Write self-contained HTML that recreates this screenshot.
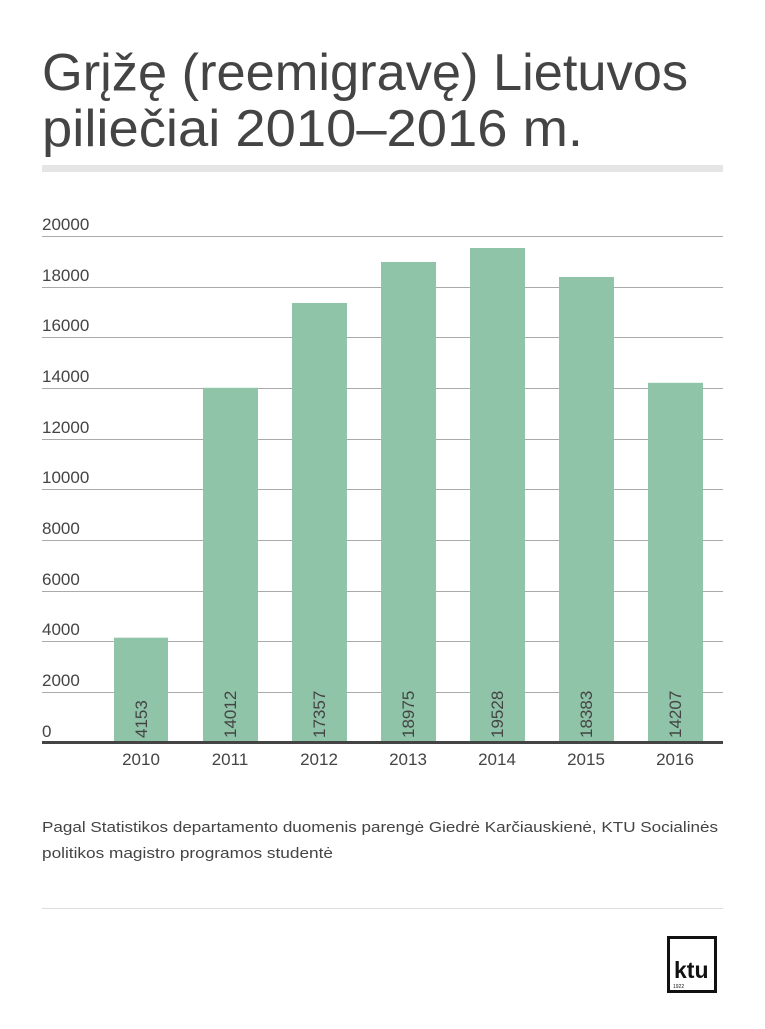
<!DOCTYPE html>
<html><head><meta charset="utf-8"><style>
body{margin:0;background:#fff;width:765px;height:1024px;overflow:hidden;font-family:"Liberation Sans",sans-serif}
</style></head><body>
<svg width="765" height="1024" xmlns="http://www.w3.org/2000/svg" font-family="Liberation Sans, sans-serif">
<text x="42" y="90" font-size="52" fill="#444" textLength="646" lengthAdjust="spacingAndGlyphs">Grįžę (reemigravę) Lietuvos</text>
<text x="42" y="146" font-size="52" fill="#444" textLength="541" lengthAdjust="spacingAndGlyphs">piliečiai 2010–2016 m.</text>
<rect x="42" y="165" width="681" height="7" fill="#e5e5e5"/>
<g stroke="#aaa" stroke-width="1">
<line x1="42" x2="723" y1="236.5" y2="236.5"/><line x1="42" x2="723" y1="287.5" y2="287.5"/>
<line x1="42" x2="723" y1="337.5" y2="337.5"/><line x1="42" x2="723" y1="388.5" y2="388.5"/>
<line x1="42" x2="723" y1="439.5" y2="439.5"/><line x1="42" x2="723" y1="489.5" y2="489.5"/>
<line x1="42" x2="723" y1="540.5" y2="540.5"/><line x1="42" x2="723" y1="591.5" y2="591.5"/>
<line x1="42" x2="723" y1="641.5" y2="641.5"/><line x1="42" x2="723" y1="692.5" y2="692.5"/>
</g>
<g font-size="17" fill="#444">
<text x="42" y="230">20000</text><text x="42" y="281">18000</text><text x="42" y="331">16000</text>
<text x="42" y="382">14000</text><text x="42" y="433">12000</text><text x="42" y="483">10000</text>
<text x="42" y="534">8000</text><text x="42" y="585">6000</text><text x="42" y="635">4000</text>
<text x="42" y="686">2000</text><text x="42" y="737">0</text>
</g>
<g fill="#8fc4a8">
<rect x="114" y="637.7" width="54" height="105.3"/>
<rect x="203" y="387.8" width="55" height="355.2"/>
<rect x="292" y="303" width="55" height="440"/>
<rect x="381" y="262" width="55" height="481"/>
<rect x="470" y="248" width="55" height="495"/>
<rect x="559" y="277" width="55" height="466"/>
<rect x="648" y="382.8" width="55" height="360.2"/>
</g>
<line x1="42" x2="723" y1="742.5" y2="742.5" stroke="#444" stroke-width="3"/>
<g font-size="17" fill="#444">
<text transform="translate(147,738) rotate(-90)">4153</text>
<text transform="translate(236,738) rotate(-90)">14012</text>
<text transform="translate(325,738) rotate(-90)">17357</text>
<text transform="translate(414,738) rotate(-90)">18975</text>
<text transform="translate(503,738) rotate(-90)">19528</text>
<text transform="translate(592,738) rotate(-90)">18383</text>
<text transform="translate(681,738) rotate(-90)">14207</text>
</g>
<g font-size="17" fill="#444" text-anchor="middle">
<text x="141" y="765">2010</text><text x="230" y="765">2011</text><text x="319" y="765">2012</text>
<text x="408" y="765">2013</text><text x="497" y="765">2014</text><text x="586" y="765">2015</text>
<text x="675" y="765">2016</text>
</g>
<g font-size="15" fill="#444">
<text x="42" y="832" textLength="676" lengthAdjust="spacingAndGlyphs">Pagal Statistikos departamento duomenis parengė Giedrė Karčiauskienė, KTU Socialinės</text>
<text x="42" y="858" textLength="291" lengthAdjust="spacingAndGlyphs">politikos magistro programos studentė</text>
</g>
<line x1="42" x2="723" y1="908.5" y2="908.5" stroke="#ddd"/>
<rect x="668.5" y="937.5" width="47" height="54" fill="none" stroke="#111" stroke-width="3"/>
<text x="674" y="978" font-size="23" font-weight="bold" fill="#111">ktu</text>
<text x="673" y="988" font-size="5" fill="#111">1922</text>
</svg>
</body></html>
